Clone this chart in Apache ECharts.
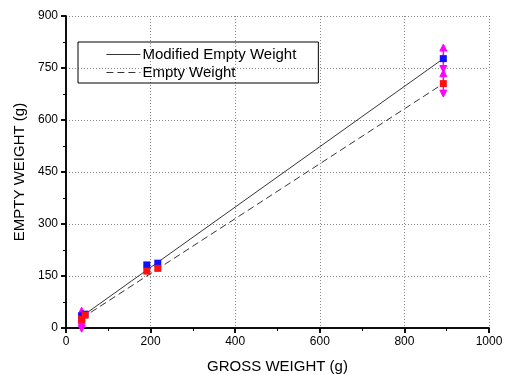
<!DOCTYPE html>
<html>
<head>
<meta charset="utf-8">
<script src="https://cdn.jsdelivr.net/npm/echarts@6/dist/echarts.min.js"></script>
<style>
html, body { margin: 0; padding: 0; background: #fff; }
#main { width: 506px; height: 374px; }
</style>
</head>
<body>
<div id="main"></div>
<script>
// measured points (gross weight, empty weight)
var modifiedPts = [[37, 35], [45, 40], [191, 182], [217, 187], [892, 777]];
var emptyPts = [[37, 25], [45, 37], [191, 164], [217, 172], [892, 705]];
// fitted lines (end points)
var modifiedFit = [[37, 33], [892, 777]];
var emptyFit = [[37, 28], [892, 705]];
// error bars [x, low, high]
var errBars = [[37, -5, 60], [37, -12, 40], [892, 737, 819], [892, 666, 745]];

var xTicks = [0, 200, 400, 600, 800, 1000];
var yTicks = [0, 150, 300, 450, 600, 750, 900];

var myChart = echarts.init(document.getElementById('main'));

var fontFam = '"Liberation Sans", Arial, sans-serif';

function errItem(params, api) {
	var top = api.coord([api.value(0), api.value(2)]);
	var bot = api.coord([api.value(0), api.value(1)]);
	var x = top[0], h = 6, w = 3.5;
	var style = { fill: '#ff00ff', stroke: '#ff00ff', lineWidth: 1 };
	return {
		type: 'group',
		children: [
			{ type: 'line', shape: { x1: x, y1: top[1] + h, x2: x, y2: bot[1] - h }, style: { stroke: '#ff00ff', lineWidth: 1.5 } },
			{ type: 'polygon', shape: { points: [[x, top[1]], [x - w, top[1] + h + 1], [x + w, top[1] + h + 1]] }, style: style },
			{ type: 'polygon', shape: { points: [[x, bot[1]], [x - w, bot[1] - h - 1], [x + w, bot[1] - h - 1]] }, style: style }
		]
	};
}

function tickLabel(v) { return String(v); }

var option = {
	animation: false,
	textStyle: { fontFamily: fontFam },
	grid: { left: 66, right: 17, top: 16, bottom: 46, outerBoundsMode: 'none', containLabel: false },
	legend: {
		left: 78,
		top: 42,
		orient: 'vertical',
		align: 'left',
		data: ['Modified Empty Weight', 'Empty Weight'],
		itemWidth: 34,
		itemHeight: 14,
		itemGap: 3,
		padding: [5, 22, 3, 28],
		borderColor: '#000',
		borderWidth: 1,
		itemStyle: { opacity: 0 },
		lineStyle: { width: 0.8 },
		textStyle: { fontSize: 15, color: '#000', fontFamily: fontFam, padding: [0, 0, 0, -3] }
	},
	xAxis: [{
		type: 'value',
		min: 0, max: 1000, interval: 200,
		name: 'GROSS WEIGHT (g)',
		nameLocation: 'middle',
		nameGap: 31,
		nameTextStyle: { fontSize: 15, color: '#000' },
		axisLine: { lineStyle: { color: '#000', width: 1.5 } },
		axisTick: { inside: false, length: 5, lineStyle: { color: '#000', width: 1.5 } },
		minorTick: { show: true, splitNumber: 2, length: 3, lineStyle: { color: '#000', width: 1 } },
		axisLabel: { fontSize: 12, color: '#000', margin: 8, formatter: tickLabel },
		splitLine: { show: true, lineStyle: { color: '#888', type: [1, 2], width: 1 } }
	}, {
		type: 'value',
		position: 'top',
		min: 0, max: 1000, interval: 200,
		axisLine: { show: true, lineStyle: { color: '#000', width: 1.5 } },
		axisTick: { inside: true, length: 5, lineStyle: { color: '#000', width: 1.5 } },
		minorTick: { show: true, splitNumber: 2, length: 3, lineStyle: { color: '#000', width: 1 } },
		axisLabel: { show: false },
		splitLine: { show: false }
	}],
	yAxis: [{
		type: 'value',
		min: 0, max: 900, interval: 150,
		name: 'EMPTY WEIGHT (g)',
		nameLocation: 'middle',
		nameGap: 38,
		nameTextStyle: { fontSize: 15, color: '#000' },
		axisLine: { show: true, lineStyle: { color: '#000', width: 1.5 } },
		axisTick: { show: true, inside: false, length: 5, lineStyle: { color: '#000', width: 1.5 } },
		minorTick: { show: true, splitNumber: 2, length: 3, lineStyle: { color: '#000', width: 1 } },
		axisLabel: { fontSize: 12, color: '#000', margin: 8, formatter: tickLabel },
		splitLine: { show: true, lineStyle: { color: '#888', type: [1, 2], width: 1 } }
	}, {
		type: 'value',
		position: 'right',
		min: 0, max: 900, interval: 150,
		axisLine: { show: true, lineStyle: { color: '#000', width: 1.5 } },
		axisTick: { show: true, inside: true, length: 5, lineStyle: { color: '#000', width: 1.5 } },
		minorTick: { show: true, splitNumber: 2, length: 3, lineStyle: { color: '#000', width: 1 } },
		axisLabel: { show: false },
		splitLine: { show: false }
	}],
	series: [{
		name: 'Modified Empty Weight',
		type: 'line',
		data: modifiedFit,
		symbol: 'none',
		itemStyle: { color: '#000' },
		lineStyle: { color: '#000', width: 0.8, type: 'solid' },
		z: 3
	}, {
		name: 'Empty Weight',
		type: 'line',
		data: emptyFit,
		symbol: 'none',
		itemStyle: { color: '#000' },
		lineStyle: { color: '#000', width: 0.8, type: [7, 4] },
		z: 3
	}, {
		name: 'err',
		type: 'custom',
		renderItem: errItem,
		data: errBars,
		clip: false,
		z: 4
	}, {
		name: 'modPts',
		type: 'scatter',
		data: modifiedPts,
		symbol: 'rect',
		symbolSize: 7,
		itemStyle: { color: '#1010ff', opacity: 1 },
		z: 5
	}, {
		name: 'emptyPts',
		type: 'scatter',
		data: emptyPts,
		symbol: 'rect',
		symbolSize: 7,
		itemStyle: { color: '#ff1010', opacity: 1 },
		z: 6
	}]
};

myChart.setOption(option);
</script>
</body>
</html>
